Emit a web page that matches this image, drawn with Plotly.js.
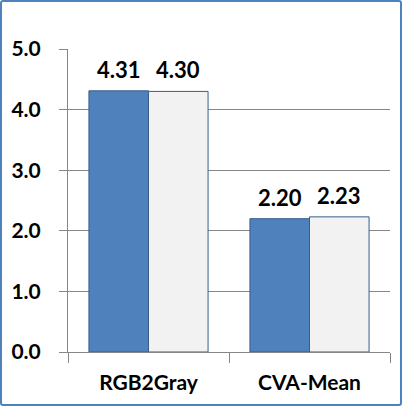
<!DOCTYPE html>
<html>
<head>
<meta charset="utf-8">
<script src="https://cdn.plot.ly/plotly-3.0.1.min.js"></script>
<style>
  html, body { margin: 0; padding: 0; background: #fff; }
  #wrap { position: relative; width: 402px; height: 406px; }
  #chart { position: absolute; left: 0; top: 0; width: 402px; height: 406px; }
  #frame { position: absolute; left: 0; top: 0; width: 402px; height: 406px; box-sizing: border-box;
           border: 2px solid #4f81bd; border-radius: 3px; pointer-events: none; }
</style>
</head>
<body>
<div id="wrap"><div id="chart"></div><div id="frame"></div></div>
<script>
const categories = ["RGB2Gray", "CVA-Mean"];
const seriesA = [4.31, 2.20];
const seriesB = [4.30, 2.23];
const labelsA = ["4.31", "2.20"];
const labelsB = ["4.30", "2.23"];
const yTickVals = [0, 1, 2, 3, 4, 5];
const yTickText = ["0.0", "1.0", "2.0", "3.0", "4.0", "5.0"];

const FONT = "Lato, 'Open Sans', sans-serif";
const bargap = 0.26;
const half = (1 - bargap) / 4;

const traces = [
  { type: "bar", x: categories, y: seriesA, name: "A",
    marker: { color: "#4f81bd", line: { color: "#385d8a", width: 1 } } },
  { type: "bar", x: categories, y: seriesB, name: "B",
    marker: { color: "#f2f2f2", line: { color: "#385d8a", width: 1 } } }
];

const annotations = [];
categories.forEach((c, i) => {
  annotations.push({ x: i - half, y: seriesA[i], xref: "x", yref: "y", text: "<b>" + labelsA[i] + "</b>",
    showarrow: false, yanchor: "bottom", yshift: 6, font: { family: FONT, size: 22, color: "#000" } });
  annotations.push({ x: i + half, y: seriesB[i], xref: "x", yref: "y", text: "<b>" + labelsB[i] + "</b>",
    showarrow: false, yanchor: "bottom", yshift: 6, font: { family: FONT, size: 22, color: "#000" } });
});

const layout = {
  width: 402, height: 406,
  margin: { l: 68, r: 12, t: 49, b: 54, pad: 0 },
  paper_bgcolor: "#ffffff", plot_bgcolor: "#ffffff",
  showlegend: false,
  barmode: "group", bargap: bargap, bargroupgap: 0,
  font: { family: FONT, size: 21, color: "#000" },
  xaxis: {
    type: "category", showline: true, linecolor: "#868686", linewidth: 1,
    ticks: "outside", tickson: "boundaries", ticklen: 10, tickcolor: "#868686",
    showgrid: false, tickfont: { family: FONT, size: 21, color: "#000", weight: "bold" },
    ticklabelstandoff: 12, fixedrange: true
  },
  yaxis: {
    range: [0, 5], tickvals: yTickVals, ticktext: yTickText,
    showline: true, linecolor: "#868686", linewidth: 1,
    ticks: "outside", ticklen: 8, tickcolor: "#868686",
    showgrid: true, gridcolor: "#868686", gridwidth: 1, zeroline: false,
    tickfont: { family: FONT, size: 21, color: "#000", weight: "bold" },
    ticklabelstandoff: 14, fixedrange: true
  },
  annotations: annotations
};

Plotly.newPlot("chart", traces, layout, { staticPlot: true, displayModeBar: false });
</script>
</body>
</html>
